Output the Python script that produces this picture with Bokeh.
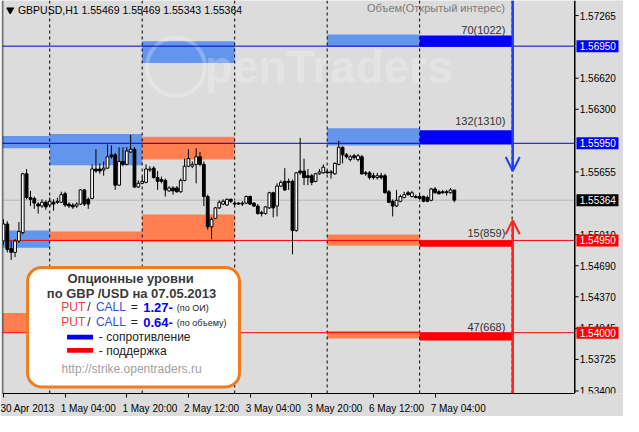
import numpy as np
from bokeh.plotting import figure
from bokeh.models import (Range1d, LinearAxis, FixedTicker, Label,
                          BoxAnnotation, Arrow, OpenHead, ColumnDataSource)
from bokeh.core.properties import value
from bokeh.embed import file_html
from bokeh.resources import INLINE

FONT = "Liberation Sans"
BG = "#dcdcdc"

# ---------------- data (GBPUSD H1, bar index 0 = 30 Apr 12:00) ----------------
opens = [
    1.54944, 1.55119, 1.54866, 1.54827, 1.54944, 1.55031, 1.55636, 1.55392, 1.55382, 1.55324,
    1.55304, 1.55343, 1.55314, 1.55343, 1.55353, 1.55343, 1.55431, 1.55324, 1.55314, 1.55304,
    1.55324, 1.55470, 1.55373, 1.55382, 1.55685, 1.55685, 1.55675, 1.55694, 1.55831, 1.55831,
    1.55519, 1.55763, 1.55733, 1.55860, 1.55889, 1.55499, 1.55538, 1.55548, 1.55675, 1.55694,
    1.55597, 1.55577, 1.55568, 1.55460, 1.55490, 1.55490, 1.55451, 1.55568, 1.55714, 1.55714,
    1.55733, 1.55811, 1.55733, 1.55402, 1.55090, 1.55178, 1.55285, 1.55324, 1.55314, 1.55373,
    1.55334, 1.55334, 1.55334, 1.55334, 1.55402, 1.55334, 1.55304, 1.55236, 1.55226, 1.55285,
    1.55441, 1.55304, 1.55509, 1.55558, 1.55558, 1.55558, 1.55051, 1.55665, 1.55665, 1.55616,
    1.55616, 1.55558, 1.55636, 1.55646, 1.55655, 1.55655, 1.55636, 1.55733, 1.55909, 1.55831,
    1.55782, 1.55821, 1.55782, 1.55811, 1.55646, 1.55646, 1.55616, 1.55597, 1.55616, 1.55616,
    1.55451, 1.55353, 1.55304, 1.55353, 1.55392, 1.55441, 1.55402, 1.55402, 1.55402, 1.55402,
    1.55392, 1.55363, 1.55480, 1.55451, 1.55451, 1.55451, 1.55441, 1.55469]
highs = [
    1.55168, 1.55148, 1.54944, 1.54963, 1.55139, 1.55646, 1.55685, 1.55460, 1.55402, 1.55343,
    1.55373, 1.55363, 1.55392, 1.55373, 1.55392, 1.55451, 1.55451, 1.55343, 1.55334, 1.55343,
    1.55480, 1.55480, 1.55392, 1.55733, 1.55889, 1.55743, 1.55763, 1.55938, 1.55928, 1.55850,
    1.55909, 1.55909, 1.55909, 1.56036, 1.55909, 1.55568, 1.55607, 1.55733, 1.55714, 1.55714,
    1.55665, 1.55607, 1.55587, 1.55509, 1.55509, 1.55509, 1.55587, 1.55792, 1.55889, 1.55763,
    1.55899, 1.55860, 1.55763, 1.55421, 1.55187, 1.55295, 1.55363, 1.55373, 1.55382, 1.55382,
    1.55353, 1.55343, 1.55353, 1.55412, 1.55412, 1.55343, 1.55324, 1.55256, 1.55304, 1.55451,
    1.55451, 1.55538, 1.55568, 1.55694, 1.55587, 1.55577, 1.55655, 1.56006, 1.55792, 1.55685,
    1.55636, 1.55646, 1.55685, 1.55733, 1.55675, 1.55675, 1.55753, 1.55977, 1.55919, 1.55850,
    1.55831, 1.55841, 1.55841, 1.55831, 1.55665, 1.55665, 1.55646, 1.55646, 1.55646, 1.55636,
    1.55470, 1.55373, 1.55470, 1.55421, 1.55451, 1.55460, 1.55460, 1.55421, 1.55421, 1.55412,
    1.55412, 1.55490, 1.55499, 1.55470, 1.55470, 1.55470, 1.55490, 1.55469]
lows = [
    1.54905, 1.54827, 1.54749, 1.54778, 1.54924, 1.55012, 1.55373, 1.55304, 1.55275, 1.55226,
    1.55285, 1.55265, 1.55295, 1.55256, 1.55324, 1.55334, 1.55295, 1.55285, 1.55275, 1.55285,
    1.55314, 1.55304, 1.55275, 1.55373, 1.55646, 1.55636, 1.55616, 1.55685, 1.55792, 1.55470,
    1.55509, 1.55714, 1.55724, 1.55850, 1.55490, 1.55490, 1.55529, 1.55538, 1.55655, 1.55587,
    1.55470, 1.55538, 1.55402, 1.55451, 1.55421, 1.55441, 1.55441, 1.55558, 1.55704, 1.55694,
    1.55538, 1.55714, 1.55304, 1.55061, 1.54963, 1.55168, 1.55275, 1.55314, 1.55304, 1.55334,
    1.55314, 1.55314, 1.55304, 1.55324, 1.55314, 1.55295, 1.55217, 1.55197, 1.55217, 1.55275,
    1.55187, 1.55197, 1.55499, 1.55460, 1.55470, 1.54807, 1.55041, 1.55626, 1.55519, 1.55519,
    1.55519, 1.55548, 1.55626, 1.55636, 1.55636, 1.55587, 1.55626, 1.55724, 1.55743, 1.55792,
    1.55763, 1.55782, 1.55763, 1.55626, 1.55616, 1.55577, 1.55577, 1.55577, 1.55577, 1.55431,
    1.55334, 1.55197, 1.55295, 1.55343, 1.55382, 1.55412, 1.55392, 1.55382, 1.55373, 1.55343,
    1.55343, 1.55353, 1.55431, 1.55421, 1.55431, 1.55412, 1.55431, 1.55343]
closes = [
    1.55119, 1.54856, 1.54827, 1.54944, 1.55041, 1.55636, 1.55392, 1.55373, 1.55334, 1.55304,
    1.55343, 1.55295, 1.55353, 1.55324, 1.55343, 1.55421, 1.55314, 1.55304, 1.55295, 1.55324,
    1.55470, 1.55324, 1.55324, 1.55685, 1.55665, 1.55665, 1.55694, 1.55811, 1.55811, 1.55519,
    1.55763, 1.55733, 1.55870, 1.55889, 1.55499, 1.55538, 1.55558, 1.55685, 1.55685, 1.55597,
    1.55558, 1.55558, 1.55470, 1.55490, 1.55460, 1.55451, 1.55568, 1.55714, 1.55792, 1.55733,
    1.55811, 1.55733, 1.55402, 1.55090, 1.55168, 1.55285, 1.55343, 1.55353, 1.55373, 1.55353,
    1.55324, 1.55324, 1.55324, 1.55402, 1.55324, 1.55304, 1.55226, 1.55226, 1.55295, 1.55441,
    1.55285, 1.55509, 1.55548, 1.55470, 1.55548, 1.55051, 1.55646, 1.55646, 1.55597, 1.55597,
    1.55548, 1.55636, 1.55655, 1.55704, 1.55646, 1.55646, 1.55743, 1.55909, 1.55831, 1.55811,
    1.55811, 1.55802, 1.55821, 1.55636, 1.55636, 1.55597, 1.55597, 1.55616, 1.55597, 1.55441,
    1.55343, 1.55304, 1.55363, 1.55402, 1.55421, 1.55421, 1.55441, 1.55392, 1.55382, 1.55353,
    1.55353, 1.55480, 1.55441, 1.55431, 1.55441, 1.55441, 1.55470, 1.55364]
assert len(opens) == len(highs) == len(lows) == len(closes) == 118

x_tick_bars = [0, 16, 32, 48, 64, 80, 96, 112]
x_tick_labels = ["30 Apr 2013", "1 May 04:00", "1 May 20:00", "2 May 12:00",
                 "3 May 04:00", "3 May 20:00", "6 May 12:00", "7 May 04:00"]
day_separators = [12, 36, 60, 84, 108, 132]
y_ticks = [1.57265, 1.56620, 1.56300, 1.55655, 1.55010, 1.54690, 1.54370, 1.54045, 1.53725, 1.53400]

LB, OR, BL, RD = "#6495ed", "#ff7f50", "#0000ff", "#ff0000"
zone_left   = [-0.25, -0.25, -0.25, 12, 12, 36, 36, 36, 84, 84, 84, 84, 108, 108, 108, 108]
zone_right  = [12, 12, 12, 36, 36, 60, 60, 60, 108, 108, 108, 108, 132, 132, 132, 132]
zone_bottom = [1.55899, 1.54875, 1.54008, 1.55724, 1.54944, 1.56777, 1.55782, 1.54934,
               1.56943, 1.55928, 1.54895, 1.53939, 1.56943, 1.55938, 1.54885, 1.53919]
zone_top    = [1.56026, 1.55051, 1.54203, 1.56045, 1.55041, 1.57001, 1.56016, 1.55217,
               1.57069, 1.56104, 1.55012, 1.54017, 1.57059, 1.56085, 1.54944, 1.53997]
zone_color  = [LB, LB, OR, LB, OR, LB, OR, OR, LB, LB, OR, OR, BL, BL, RD, RD]

level_labels = ["70(1022)", "132(1310)", "15(859)", "47(668)"]
level_label_y = [1.57118, 1.56182, 1.55022, 1.54060]
resistance_levels = [1.56950, 1.55950]
support_levels = [1.54950, 1.54000]
last_price = 1.55364
resistance_target = 1.55665
support_target = 1.55158

Y0, Y1 = 1.53374, 1.57420
X0, PLOT_R, X_END = -0.25, 148.25, 160.9   # chart area ends at PLOT_R, price scale beyond


# reference-pixel helpers for decorations (text / legend placement)
def bx(px):
    return (px - 3) / 4.0


def py(ypx):
    return Y1 - 0.0000975 * ypx


p = figure(width=623, height=416, output_backend="svg", toolbar_location=None, tools="",
           x_range=Range1d(X0, X_END), y_range=Range1d(Y0, Y1),
           x_axis_location=None, y_axis_location=None)
p.background_fill_color = BG
p.border_fill_color = BG
p.outline_line_color = None
p.min_border = 0
p.min_border_left = 2
p.xgrid.visible = False
p.ygrid.visible = False

# time axis
centers = [b + 6 for b in x_tick_bars]
ba = LinearAxis(ticker=FixedTicker(ticks=centers, minor_ticks=x_tick_bars),
                major_label_overrides={c: t for c, t in zip(centers, x_tick_labels)},
                bounds=(X0, PLOT_R),
                major_tick_line_color=None, minor_tick_out=4, minor_tick_in=0,
                minor_tick_line_color="black", axis_line_color="black",
                major_label_text_font=FONT, major_label_text_font_size="10px",
                major_label_text_color="black", major_label_standoff=3)
p.add_layout(ba, "below")

# zones
p.quad(left=zone_left, right=zone_right, bottom=zone_bottom, top=zone_top,
       fill_color=zone_color, line_color=None)

# watermark
p.scatter(x=[bx(182)], y=[py(70)], size=58, fill_color=None, line_color="white",
          line_alpha=0.25, line_width=4)
p.text(x=[bx(212)], y=[py(70)], text=["penTraders"], text_font=value(FONT),
       text_font_size="46px", text_font_style="bold", text_color="white", text_alpha=0.25,
       text_baseline="middle")

# day separators
p.segment(x0=day_separators, x1=day_separators, y0=[Y0] * len(day_separators),
          y1=[Y1] * len(day_separators), line_color="black", line_dash="3 3", line_width=1)

# level lines
p.segment(x0=[X0] * 2, x1=[PLOT_R] * 2, y0=resistance_levels, y1=resistance_levels,
          line_color="#0000cd", line_width=1)
p.segment(x0=[X0] * 2, x1=[PLOT_R] * 2, y0=support_levels, y1=support_levels,
          line_color="#ff0000", line_width=1)
p.segment(x0=[X0], x1=[PLOT_R], y0=[last_price], y1=[last_price], line_color="#b8b8b8",
          line_width=1)
# chart borders (left / right)
p.segment(x0=[X0, PLOT_R], x1=[X0, PLOT_R], y0=[Y0, Y0], y1=[Y1, Y1], line_color="black",
          line_width=1.5)

# candles
o = np.array(opens); c = np.array(closes)
idx = np.arange(len(opens))
src = ColumnDataSource(dict(x=idx, h=highs, l=lows, top=np.maximum(o, c), bot=np.minimum(o, c),
                            fill=np.where(c >= o, "white", "black")))
p.segment(x0="x", x1="x", y0="l", y1="h", source=src, line_color="black", line_width=1)
p.vbar(x="x", width=0.72, top="top", bottom="bot", source=src, fill_color="fill",
       line_color="black", line_width=1)

# level labels
p.text(x=[bx(524)] * 4, y=level_label_y, text=level_labels, text_font=value(FONT),
       text_font_size="11px", text_color="#333333", text_align="right", text_baseline="middle")

# price scale (right): tick marks + labels
p.segment(x0=[PLOT_R] * len(y_ticks), x1=[PLOT_R + 1.0] * len(y_ticks), y0=y_ticks, y1=y_ticks,
          line_color="black", line_width=1)
p.text(x=[PLOT_R + 1.3] * len(y_ticks), y=y_ticks, text=["%.5f" % v for v in y_ticks],
       text_font=value(FONT), text_font_size="10px", text_color="black", text_baseline="middle")

hl_vals = [resistance_levels[0], resistance_levels[1], last_price, support_levels[0], support_levels[1]]
hl_cols = [BL, BL, "black", RD, RD]
p.rect(x=[PLOT_R + 5.9] * 5, y=hl_vals, width=42, height=12, width_units="screen",
       height_units="screen", fill_color=hl_cols, line_color=None)
p.text(x=[PLOT_R + 1.3] * 5, y=hl_vals, text=["%.5f" % v for v in hl_vals],
       text_font=value(FONT), text_font_size="10px", text_color="white", text_baseline="middle")

# title
p.scatter(x=[bx(10)], y=[py(10)], marker="inverted_triangle", size=7, color="black")
p.text(x=[bx(18)], y=[py(10.5)], text=["GBPUSD,H1  1.55469 1.55469 1.55343 1.55364"],
       text_font=value(FONT), text_font_size="10.5px", text_color="black", text_baseline="middle")
p.text(x=[bx(452)], y=[py(8)], text=["Объем(Открытый интерес)"], text_font=value(FONT),
       text_font_size="11px", text_color="#7a7a7a", text_align="center", text_baseline="middle")

# arrows
p.add_layout(Arrow(end=OpenHead(size=14, line_color="#1f3cff", line_width=2),
                   x_start=132.15, y_start=Y1, x_end=132.15, y_end=resistance_target,
                   line_color="#1f3cff", line_width=2.5))
p.add_layout(Arrow(end=OpenHead(size=14, line_color="#ff2020", line_width=2),
                   x_start=132.15, y_start=Y0, x_end=132.15, y_end=support_target,
                   line_color="#ff2020", line_width=2.5))

# legend box
p.add_layout(BoxAnnotation(left=bx(28), right=bx(248), top=py(282), bottom=py(408),
                           fill_color="white", fill_alpha=1, line_color="#f07c1f",
                           line_alpha=1, line_width=3, border_radius=14))


def lab(xp, yp, text, color="#333333", size="12px", style="normal", align="left"):
    p.add_layout(Label(x=bx(xp), y=py(yp), text=text, text_color=color, text_font=FONT,
                       text_font_size=size, text_font_style=style, text_align=align,
                       text_baseline="middle"))


lab(135, 294, "Опционные уровни", "#3a3a3a", "13px", "bold", "center")
lab(136, 309, "по GBP /USD на 07.05.2013", "#3a3a3a", "13px", "bold", "center")
PUTC, CALLC = "#f03c3c", "#3050e0"
for yy, ratio, note in [(324, "1.27-", "(по ОИ)"), (340, "0.64-", "(по объему)")]:
    lab(63, yy, "PUT", PUTC)
    lab(90, yy, "/", "#222222")
    lab(99, yy, "CALL", CALLC)
    lab(135, yy, "=", "#222222")
    lab(148, yy, ratio, "#0000ff", "13px", "bold")
    lab(183, yy + 1, note, "#222222", "9px")

p.add_layout(BoxAnnotation(left=bx(69), right=bx(96), top=py(353), bottom=py(358),
                           fill_color=BL, fill_alpha=1, line_color=None))
p.add_layout(BoxAnnotation(left=bx(69), right=bx(96), top=py(367), bottom=py(372),
                           fill_color=RD, fill_alpha=1, line_color=None))
lab(102, 355, "- сопротивление", "#222222")
lab(102, 370, "- поддержка", "#222222")
lab(136, 389, "http://strike.opentraders.ru", "#a0a0a0", "12px", "normal", "center")

open("out.html", "w").write(file_html(p, INLINE))
